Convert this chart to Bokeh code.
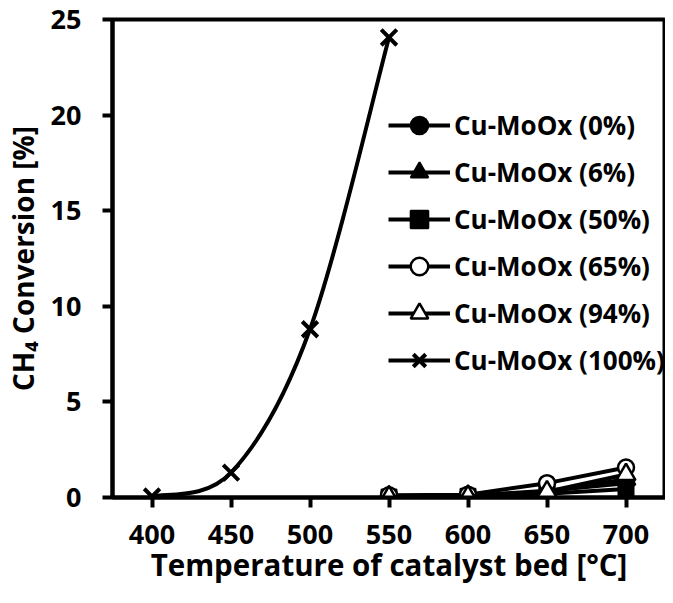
from bokeh.plotting import figure
from bokeh.models import Range1d, Legend, LegendItem, FixedTicker
from bokeh.embed import file_html
from bokeh.resources import INLINE

# ---- data ----
temps_100 = [400, 450, 500, 550]
conv_100 = [0.05, 1.3, 8.8, 24.06]

temps = [550, 600, 650, 700]
conv_0 = [0.05, 0.1, 0.35, 0.75]
conv_6 = [0.04, 0.08, 0.3, 0.95]
conv_50 = [0.03, 0.06, 0.2, 0.45]
conv_65 = [0.12, 0.15, 0.75, 1.57]
conv_94 = [0.02, 0.05, 0.3, 1.2]

x_ticks = [400, 450, 500, 550, 600, 650, 700]
y_ticks = [0, 5, 10, 15, 20, 25]
labels = ["Cu-MoOx (0%)", "Cu-MoOx (6%)", "Cu-MoOx (50%)",
          "Cu-MoOx (65%)", "Cu-MoOx (94%)", "Cu-MoOx (100%)"]
x_title = "Temperature of catalyst bed [°C]"
y_title = "CH\u2084 Conversion [%]"

FONT = "Open Sans"

p = figure(width=665, height=587, output_backend="svg", toolbar_location=None,
           x_range=Range1d(375, 725), y_range=Range1d(0, 25),
           min_border_left=112, min_border_top=19, min_border_right=0,
           min_border_bottom=90)
p.xgrid.visible = False
p.ygrid.visible = False
p.outline_line_color = "black"
p.outline_line_width = 4
p.background_fill_color = "white"
p.border_fill_color = "white"

for ax in (p.xaxis[0], p.yaxis[0]):
    ax.axis_line_width = 4
    ax.axis_line_color = "black"
    ax.major_tick_line_width = 4
    ax.major_tick_in = 0
    ax.major_tick_out = 10
    ax.minor_tick_line_color = None
    ax.major_label_text_font = FONT
    ax.major_label_text_font_style = "bold"
    ax.major_label_text_font_size = "27px"
    ax.major_label_text_color = "black"
    ax.axis_label_text_font = FONT
    ax.axis_label_text_font_style = "bold"
    ax.axis_label_text_font_size = "28px"
    ax.axis_label_text_color = "black"

p.xaxis[0].ticker = FixedTicker(ticks=x_ticks)
p.yaxis[0].ticker = FixedTicker(ticks=y_ticks)
p.xaxis[0].major_label_standoff = 17
p.yaxis[0].major_label_standoff = 21
p.yaxis[0].axis_label = y_title
p.yaxis[0].axis_label_standoff = 6
p.xaxis[0].axis_label = x_title
p.xaxis[0].axis_label_standoff = -3
p.xaxis[0].axis_label_text_font_size = "29.5px"

LW = 4
items = []

l0 = p.line(temps, conv_0, line_color="black", line_width=LW)
m0 = p.scatter(temps, conv_0, marker="circle", size=16, fill_color="black",
               line_color="black", line_width=2)
items.append(LegendItem(label=labels[0], renderers=[l0, m0]))

l6 = p.line(temps, conv_6, line_color="black", line_width=LW)
m6 = p.scatter(temps, conv_6, marker="triangle", size=19, fill_color="black",
               line_color="black", line_width=2)
items.append(LegendItem(label=labels[1], renderers=[l6, m6]))

l50 = p.line(temps, conv_50, line_color="black", line_width=LW)
m50 = p.scatter(temps, conv_50, marker="square", size=15, fill_color="black",
                line_color="black", line_width=2)
items.append(LegendItem(label=labels[2], renderers=[l50, m50]))

l65 = p.line(temps, conv_65, line_color="black", line_width=LW)
m65 = p.scatter(temps, conv_65, marker="circle", size=16, fill_color="white",
                line_color="black", line_width=2.5)
items.append(LegendItem(label=labels[3], renderers=[l65, m65]))

l94 = p.line(temps, conv_94, line_color="black", line_width=LW)
m94 = p.scatter(temps, conv_94, marker="triangle", size=19, fill_color="white",
                line_color="black", line_width=2.5)
items.append(LegendItem(label=labels[4], renderers=[l94, m94]))

# 100% : smoothed curve (Bezier through the data points)
n = len(temps_100)
x0s, y0s, x1s, y1s, cx0s, cy0s, cx1s, cy1s = [], [], [], [], [], [], [], []
for i in range(n - 1):
    ip = max(i - 1, 0)
    inn = min(i + 2, n - 1)
    x0s.append(temps_100[i]); y0s.append(conv_100[i])
    x1s.append(temps_100[i + 1]); y1s.append(conv_100[i + 1])
    cx0s.append(temps_100[i] + (temps_100[i + 1] - temps_100[ip]) / 6)
    cy0s.append(conv_100[i] + (conv_100[i + 1] - conv_100[ip]) / 6)
    cx1s.append(temps_100[i + 1] - (temps_100[inn] - temps_100[i]) / 6)
    cy1s.append(conv_100[i + 1] - (conv_100[inn] - conv_100[i]) / 6)
l100 = p.bezier(x0=x0s, y0=y0s, x1=x1s, y1=y1s, cx0=cx0s, cy0=cy0s,
                cx1=cx1s, cy1=cy1s, line_color="black", line_width=LW)
m100 = p.scatter(temps_100, conv_100, marker="x", size=22, line_color="black",
                 line_width=4)
items.append(LegendItem(label=labels[5], renderers=[l100, m100]))

legend = Legend(items=items, location=(276, 115), orientation="vertical",
                background_fill_alpha=0, border_line_color=None,
                padding=0, margin=0, spacing=3,
                glyph_width=62, glyph_height=44, label_height=44,
                label_standoff=4,
                label_text_font=FONT, label_text_font_style="bold",
                label_text_font_size="26px", label_text_color="black")
p.add_layout(legend)

open("out.html", "w").write(file_html(p, INLINE))
